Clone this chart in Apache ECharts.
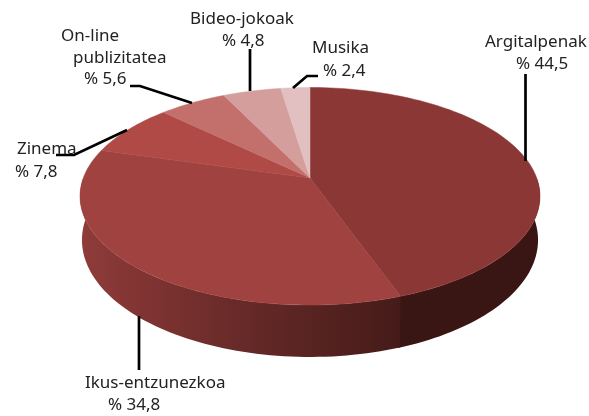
<!DOCTYPE html>
<html><head><meta charset="utf-8">
<style>html,body{margin:0;padding:0;background:#fff}#c{width:589px;height:416px}</style>
<script src="https://cdn.jsdelivr.net/npm/echarts@6/dist/echarts.min.js"></script>
</head><body><div id="c"></div>
<script>
var categories = ['Argitalpenak','Ikus-entzunezkoa','Zinema','On-line\npublizitatea','Bideo-jokoak','Musika'];
var values = [44.5,34.8,7.8,5.6,4.8,2.4];
var topColors = ['#8a3735','#a04340','#b04a46','#c3706d','#d49e9d','#e2c0c1'];
var labelLayout = [
  [[485,42],[516,64]],
  [[85,383],[108,405]],
  [[17,149],[15,172]],
  [[61,36],[73,58],[84,79]],
  [[190,19],[222,41]],
  [[312,48],[323,71]]
];
var leaderLines = [
  [[525.5,74],[525.5,161]],
  [[139,316],[139,370]],
  [[56,155],[74,155],[127,130]],
  [[130,86],[140,86],[192,103]],
  [[250,49],[250,91]],
  [[318,76],[307,76],[293,88]]
];
var FONT = '"Noto Sans"', FS = 17;

var total = values.reduce(function(a,b){return a+b;},0);
var starts = []; values.reduce(function(a,v,i){starts[i]=a;return a+v;},0);
var K = 0.168;
var topFace = {cx:310,cy:178,A:226.7,B:105.7};
var botFace = {cx:310,cy:220.3,A:224.8,B:113.7};
function proj(f,deg){
  var t=deg*Math.PI/180,u=Math.sin(t),v=-Math.cos(t),w=1-K*v;
  return [f.cx+f.A*u/w,f.cy+f.B*v/w];
}
function arc(f,a,b){
  var n=Math.max(2,Math.ceil(Math.abs(b-a)/1.5)),p=[];
  for(var i=0;i<=n;i++)p.push(proj(f,a+(b-a)*i/n));
  return p;
}
function range(i){
  var a=starts[i]/total*360;
  return [a,a+values[i]/total*360];
}
var ikusGrad={type:'linear',x:80,y:0,x2:400,y2:0,global:true,colorStops:[
  {offset:0,color:'#8f3c3a'},{offset:0.17,color:'#823533'},{offset:0.5,color:'#672a28'},{offset:1,color:'#451b19'}]};
var sideFills=['#391614',ikusGrad];

var graphics=[];
leaderLines.forEach(function(pts){
  graphics.push({type:'polyline',z:10,silent:true,shape:{points:pts},style:{fill:null,stroke:'#000',lineWidth:2.7,lineJoin:'miter'}});
});
categories.forEach(function(name,i){
  var lines=name.split('\n').concat('% '+String(values[i]).replace('.',','));
  lines.forEach(function(txt,j){
    var p=labelLayout[i][j];
    graphics.push({type:'text',z:11,silent:true,x:p[0],y:p[1],style:{text:txt,font:FS+'px '+FONT,fill:'#222',textAlign:'left',textVerticalAlign:'middle'}});
  });
});

var data=values.map(function(v,i){return {name:categories[i],value:[v]};});
var chart=echarts.init(document.getElementById('c'),null,{renderer:'canvas'});
chart.setOption({
  animation:false,
  backgroundColor:'#fff',
  graphic:graphics,
  series:[
    {type:'custom',coordinateSystem:'none',silent:true,z:1,data:data,
     renderItem:function(params,api){
       var i=params.dataIndex,r=range(i);
       var a=Math.max(r[0],90),b=Math.min(r[1]+0.4,270);
       if(a>=b)return {type:'group',children:[]};
       var pts=arc(topFace,a,b).concat(arc(botFace,a,b).reverse());
       return {type:'polygon',shape:{points:pts},style:{fill:sideFills[i]||'#391614'}};
     }},
    {type:'custom',coordinateSystem:'none',silent:true,z:2,data:data,
     renderItem:function(params,api){
       var i=params.dataIndex,r=range(i);
       var pts=[[topFace.cx,topFace.cy]].concat(arc(topFace,r[0],r[0]+api.value(0)/total*360));
       return {type:'polygon',shape:{points:pts},style:{fill:topColors[i],stroke:topColors[i],lineWidth:0.5}};
     }}
  ]
});
</script></body></html>
